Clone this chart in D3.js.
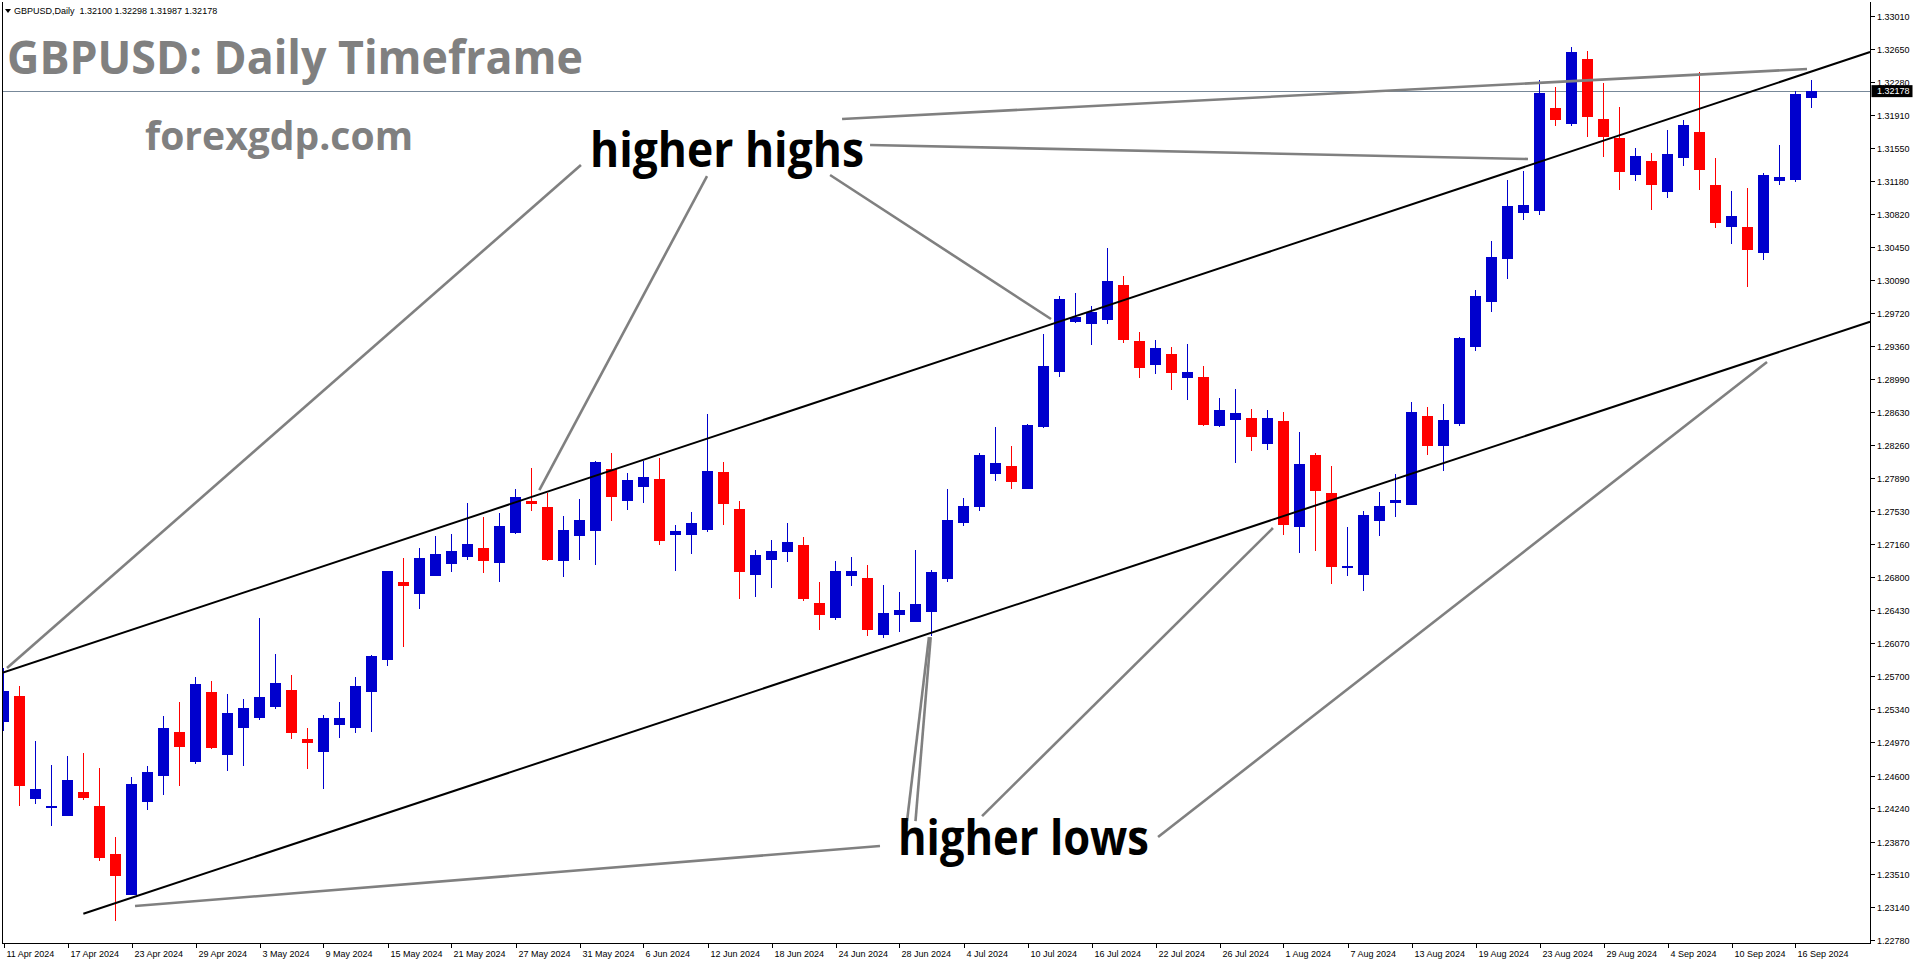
<!DOCTYPE html>
<html><head><meta charset="utf-8">
<script src="https://cdn.jsdelivr.net/npm/d3@7"></script>
<style>body{margin:0;background:#fff;overflow:hidden}svg{display:block}</style>
</head><body><svg id="c" width="1916" height="964"></svg>
<script>
const dates = [
"2024-04-11","2024-04-12","2024-04-15","2024-04-16","2024-04-17","2024-04-18","2024-04-19","2024-04-22","2024-04-23","2024-04-24","2024-04-25","2024-04-26","2024-04-29","2024-04-30",
"2024-05-01","2024-05-02","2024-05-03","2024-05-06","2024-05-07","2024-05-08","2024-05-09","2024-05-10","2024-05-13","2024-05-14","2024-05-15","2024-05-16","2024-05-17","2024-05-20","2024-05-21","2024-05-22","2024-05-23","2024-05-24","2024-05-27","2024-05-28","2024-05-29","2024-05-30","2024-05-31",
"2024-06-03","2024-06-04","2024-06-05","2024-06-06","2024-06-07","2024-06-10","2024-06-11","2024-06-12","2024-06-13","2024-06-14","2024-06-17","2024-06-18","2024-06-19","2024-06-20","2024-06-21","2024-06-24","2024-06-25","2024-06-26","2024-06-27","2024-06-28",
"2024-07-01","2024-07-02","2024-07-03","2024-07-04","2024-07-05","2024-07-08","2024-07-09","2024-07-10","2024-07-11","2024-07-12","2024-07-15","2024-07-16","2024-07-17","2024-07-18","2024-07-19","2024-07-22","2024-07-23","2024-07-24","2024-07-25","2024-07-26","2024-07-29","2024-07-30","2024-07-31",
"2024-08-01","2024-08-02","2024-08-05","2024-08-06","2024-08-07","2024-08-08","2024-08-09","2024-08-12","2024-08-13","2024-08-14","2024-08-15","2024-08-16","2024-08-19","2024-08-20","2024-08-21","2024-08-22","2024-08-23","2024-08-26","2024-08-27","2024-08-28","2024-08-29","2024-08-30",
"2024-09-02","2024-09-03","2024-09-04","2024-09-05","2024-09-06","2024-09-09","2024-09-10","2024-09-11","2024-09-12","2024-09-13","2024-09-16","2024-09-17"];

const opens = [1.25196,1.25481,1.24341,1.24241,1.24152,1.24418,1.24263,1.23732,1.23278,1.24307,1.24595,1.25082,1.24750,1.25525,
1.24828,1.25127,1.25237,1.25359,1.25547,1.25005,1.24861,1.25163,1.25127,1.25525,1.25880,1.26743,1.26610,1.26810,1.26943,1.27020,1.27120,1.26954,1.27286,1.27640,1.27574,1.26976,1.27253,
1.27308,1.27994,1.27640,1.27795,1.27884,1.27264,1.27264,1.27319,1.27961,1.27552,1.26821,1.26987,1.27075,1.27153,1.26511,1.26345,1.26810,1.26788,1.26156,1.26378,
1.26300,1.26411,1.26776,1.27396,1.27574,1.27939,1.28028,1.27773,1.28459,1.29068,1.29622,1.29600,1.29644,1.30032,1.29412,1.29146,1.29268,1.29002,1.29013,1.28470,1.28537,1.28559,1.28271,
1.28526,1.27354,1.28149,1.27730,1.26904,1.26825,1.27422,1.27623,1.27596,1.28581,1.28252,1.28494,1.29340,1.29846,1.30324,1.30834,1.30851,1.31992,1.31814,1.32534,1.31870,1.31659,
1.31250,1.31405,1.31061,1.31438,1.31726,1.31139,1.30674,1.30674,1.30386,1.31183,1.31194,1.32100];
const highs = [1.25788,1.25592,1.24983,1.24717,1.24817,1.24850,1.24684,1.23920,1.24584,1.24706,1.25260,1.25415,1.25691,1.25647,
1.25503,1.25448,1.26345,1.25946,1.25714,1.25127,1.25271,1.25415,1.25691,1.25935,1.26867,1.27009,1.27120,1.27253,1.27275,1.27618,1.27463,1.27507,1.27773,1.28005,1.27729,1.27474,1.27662,
1.28083,1.28172,1.27950,1.28088,1.28116,1.27374,1.27518,1.28603,1.28072,1.27640,1.27098,1.27208,1.27396,1.27241,1.26743,1.26976,1.27020,1.26931,1.26710,1.26633,
1.27098,1.26876,1.27773,1.27673,1.28172,1.28459,1.28249,1.28493,1.29489,1.29910,1.29943,1.29799,1.30441,1.30131,1.29511,1.29423,1.29345,1.29378,1.29135,1.28780,1.28880,1.28659,1.28648,
1.28625,1.28404,1.28174,1.28028,1.27352,1.27533,1.27740,1.27939,1.28736,1.28681,1.28714,1.29458,1.29976,1.30519,1.31194,1.31294,1.32297,1.32224,1.32667,1.32622,1.32268,1.32002,
1.31548,1.31493,1.31748,1.31859,1.32390,1.31438,1.31072,1.31106,1.31272,1.31582,1.32180,1.32298];
const lows = [1.25097,1.24266,1.24289,1.24045,1.24150,1.24330,1.23657,1.22993,1.23275,1.24219,1.24385,1.24485,1.24728,1.24894,
1.24651,1.24706,1.25215,1.25337,1.25005,1.24673,1.24451,1.25016,1.25071,1.25082,1.25813,1.26022,1.26444,1.26808,1.26854,1.26987,1.26843,1.26743,1.27275,1.27529,1.26976,1.26799,1.26987,
1.26931,1.27419,1.27540,1.27618,1.27153,1.26865,1.27053,1.27297,1.27374,1.26555,1.26577,1.26677,1.26965,1.26533,1.26212,1.26323,1.26699,1.26145,1.26123,1.26190,
1.26298,1.26145,1.26743,1.27363,1.27529,1.27862,1.27773,1.27768,1.28448,1.29013,1.29611,1.29367,1.29600,1.29389,1.29002,1.29046,1.28869,1.28758,1.28476,1.28465,1.28061,1.28194,1.28205,
1.27264,1.27070,1.27090,1.26726,1.26805,1.26647,1.27256,1.27465,1.27591,1.28149,1.27976,1.28474,1.29296,1.29735,1.30102,1.30756,1.30811,1.31792,1.31795,1.31672,1.31449,1.31083,
1.31183,1.30862,1.30995,1.31349,1.31083,1.30663,1.30486,1.30009,1.30308,1.31139,1.31172,1.31987];
const closes = [1.25536,1.24488,1.24451,1.24260,1.24551,1.24352,1.23691,1.23491,1.24507,1.24640,1.25127,1.24916,1.25614,1.24905,
1.25293,1.25348,1.25470,1.25625,1.25071,1.24961,1.25237,1.25237,1.25592,1.25924,1.26865,1.26699,1.27009,1.27053,1.27086,1.27164,1.26976,1.27363,1.27684,1.27610,1.26987,1.27319,1.27430,
1.28072,1.27684,1.27873,1.27906,1.27197,1.27308,1.27396,1.27972,1.27610,1.26854,1.27042,1.27086,1.27186,1.26555,1.26378,1.26865,1.26865,1.26212,1.26400,1.26433,
1.26500,1.26854,1.27430,1.27585,1.28149,1.28061,1.27850,1.28482,1.29135,1.29877,1.29677,1.29733,1.30076,1.29423,1.29113,1.29334,1.29057,1.29068,1.28482,1.28648,1.28614,1.28349,1.28559,
1.27374,1.28050,1.27754,1.26912,1.26924,1.27485,1.27585,1.27647,1.28625,1.28245,1.28537,1.29446,1.29910,1.30342,1.30906,1.30917,1.32159,1.31863,1.32611,1.31894,1.31670,1.31283,
1.31460,1.31139,1.31482,1.31803,1.31305,1.30718,1.30796,1.30419,1.31250,1.31227,1.32146,1.32178];

const priceTicks = ["1.33010","1.32650","1.32280","1.31910","1.31550","1.31180","1.30820","1.30450","1.30090","1.29720","1.29360","1.28990","1.28630","1.28260","1.27890","1.27530","1.27160","1.26800","1.26430","1.26070","1.25700","1.25340","1.24970","1.24600","1.24240","1.23870","1.23510","1.23140","1.22780"];
const dateTickLabels = ["11 Apr 2024","17 Apr 2024","23 Apr 2024","29 Apr 2024","3 May 2024","9 May 2024","15 May 2024","21 May 2024","27 May 2024","31 May 2024","6 Jun 2024","12 Jun 2024","18 Jun 2024","24 Jun 2024","28 Jun 2024","4 Jul 2024","10 Jul 2024","16 Jul 2024","22 Jul 2024","26 Jul 2024","1 Aug 2024","7 Aug 2024","13 Aug 2024","19 Aug 2024","23 Aug 2024","29 Aug 2024","4 Sep 2024","10 Sep 2024","16 Sep 2024"];

const symbol = "GBPUSD,Daily";
const lastBar = {o:"1.32100", h:"1.32298", l:"1.31987", c:"1.32178"};
const bidPrice = 1.32178;

// trend lines: [barIndex, price] pairs
const channelLines = [
  [[-0.03, 1.25740], [116.66, 1.32611]],
  [[4.99, 1.23071], [116.66, 1.29625]]
];
const pointerLines = [
  [[36.09, 1.31360], [0.22, 1.25791]],
  [[43.97, 1.31238], [33.49, 1.27762]],
  [[51.66, 1.31250], [65.47, 1.29655]],
  [[54.16, 1.31582], [95.28, 1.31427]],
  [[52.41, 1.31870], [112.72, 1.32423]],
  [[54.78, 1.23820], [8.22, 1.23156]],
  [[56.47, 1.24097], [57.84, 1.26134]],
  [[57.00, 1.24097], [57.95, 1.26134]],
  [[61.16, 1.24152], [79.34, 1.27341]],
  [[72.16, 1.23920], [110.22, 1.29179]]
];

const W = 1916, H = 964;
const plot = {l: 2.5, t: 1.5, r: 1870.5, b: 943.5};
const svg = d3.select("#c");
svg.append("rect").attr("width", W).attr("height", H).attr("fill", "#fff");

const x = d3.scaleLinear().domain([0, dates.length - 1]).range([3.5, 3.5 + 16 * (dates.length - 1)]);
const y = d3.scaleLinear().domain([1.22780, 1.33010]).range([940, 16]);
const fmt = d3.timeFormat("%-d %b %Y");
const parse = d3.timeParse("%Y-%m-%d");

svg.append("clipPath").attr("id", "pc").append("rect")
  .attr("x", 3).attr("y", 2).attr("width", plot.r - 3).attr("height", plot.b - 2);

const g = svg.append("g").attr("clip-path", "url(#pc)");

// bid line
g.append("line").attr("x1", 3).attr("x2", plot.r).attr("y1", Math.round(y(bidPrice)) + 0.5).attr("y2", Math.round(y(bidPrice)) + 0.5)
  .attr("stroke", "#778899").attr("stroke-width", 1);

const bars = dates.map((d, i) => ({i, o: opens[i], h: highs[i], l: lows[i], c: closes[i]}));
const cg = g.append("g").attr("shape-rendering", "crispEdges");
cg.selectAll(".wick").data(bars).join("rect")
  .attr("x", d => x(d.i) - 0.5).attr("width", 1)
  .attr("y", d => y(d.h)).attr("height", d => Math.max(1, y(d.l) - y(d.h)))
  .attr("fill", d => d.c >= d.o ? "#0000CD" : "#FF0000");
cg.selectAll(".body").data(bars).join("rect")
  .attr("x", d => x(d.i) - 5.5).attr("width", 11)
  .attr("y", d => y(Math.max(d.o, d.c))).attr("height", d => Math.max(1.5, Math.abs(y(d.o) - y(d.c))))
  .attr("fill", d => d.c >= d.o ? "#0000CD" : "#FF0000");

// channel lines
g.selectAll(".ch").data(channelLines).join("line")
  .attr("x1", d => x(d[0][0])).attr("y1", d => y(d[0][1]))
  .attr("x2", d => x(d[1][0])).attr("y2", d => y(d[1][1]))
  .attr("stroke", "#000").attr("stroke-width", 2);
g.selectAll(".pt").data(pointerLines).join("line")
  .attr("x1", d => x(d[0][0])).attr("y1", d => y(d[0][1]))
  .attr("x2", d => x(d[1][0])).attr("y2", d => y(d[1][1]))
  .attr("stroke", "#808080").attr("stroke-width", 2.6);

// frame
svg.append("path").attr("d", `M${plot.l},${plot.t}V${plot.b}H${plot.r}V${plot.t}`)
  .attr("fill", "none").attr("stroke", "#000").attr("stroke-width", 1).attr("shape-rendering", "crispEdges");

// price axis
const ax = svg.append("g").attr("font-family", "Liberation Sans, Arial, sans-serif").attr("font-size", 9).attr("fill", "#000");
priceTicks.forEach(t => {
  const yy = Math.round(y(+t)) + 0.5;
  ax.append("line").attr("x1", plot.r).attr("x2", plot.r + 4).attr("y1", yy).attr("y2", yy).attr("stroke", "#000").attr("shape-rendering", "crispEdges");
  ax.append("text").attr("x", 1877).attr("y", yy + 3.2).text(t);
});
// bid label
const by = y(bidPrice);
ax.append("rect").attr("x", 1871.5).attr("y", by - 6).attr("width", 41).attr("height", 12).attr("fill", "#000");
ax.append("text").attr("x", 1877).attr("y", by + 3.3).attr("fill", "#fff").text(bidPrice.toFixed(5));

// date axis
dateTickLabels.forEach(lbl => {
  const idx = dates.findIndex(d => fmt(parse(d)) === lbl);
  const xx = Math.round(x(idx)) + 0.5;
  ax.append("line").attr("x1", xx).attr("x2", xx).attr("y1", plot.b).attr("y2", plot.b + 4).attr("stroke", "#000").attr("shape-rendering", "crispEdges");
  ax.append("text").attr("x", xx + 2).attr("y", plot.b + 13).text(lbl);
});

// header
const hd = svg.append("g").attr("font-family", "Liberation Sans, Arial, sans-serif").attr("font-size", 9).attr("fill", "#000");
hd.append("path").attr("d", "M5,9 L11,9 L8,13 Z").attr("fill", "#000");
hd.append("text").attr("x", 14).attr("y", 14).attr("xml:space", "preserve")
  .text(`${symbol}  ${lastBar.o} ${lastBar.h} ${lastBar.l} ${lastBar.c}`);

// titles & annotations
const ann = svg.append("g").attr("font-family", "Open Sans, sans-serif").attr("font-weight", 700);
ann.append("text").attr("x", 7).attr("y", 74).attr("font-size", 46).attr("fill", "#808080")
  .attr("textLength", 576).attr("lengthAdjust", "spacingAndGlyphs").text("GBPUSD: Daily Timeframe");
ann.append("text").attr("x", 145).attr("y", 150).attr("font-size", 40).attr("fill", "#808080")
  .attr("textLength", 268).attr("lengthAdjust", "spacingAndGlyphs").text("forexgdp.com");
ann.append("text").attr("x", 590).attr("y", 167).attr("font-size", 48).attr("fill", "#000")
  .attr("textLength", 274).attr("lengthAdjust", "spacingAndGlyphs").text("higher highs");
ann.append("text").attr("x", 898).attr("y", 855).attr("font-size", 48).attr("fill", "#000")
  .attr("textLength", 251).attr("lengthAdjust", "spacingAndGlyphs").text("higher lows");
</script></body></html>
